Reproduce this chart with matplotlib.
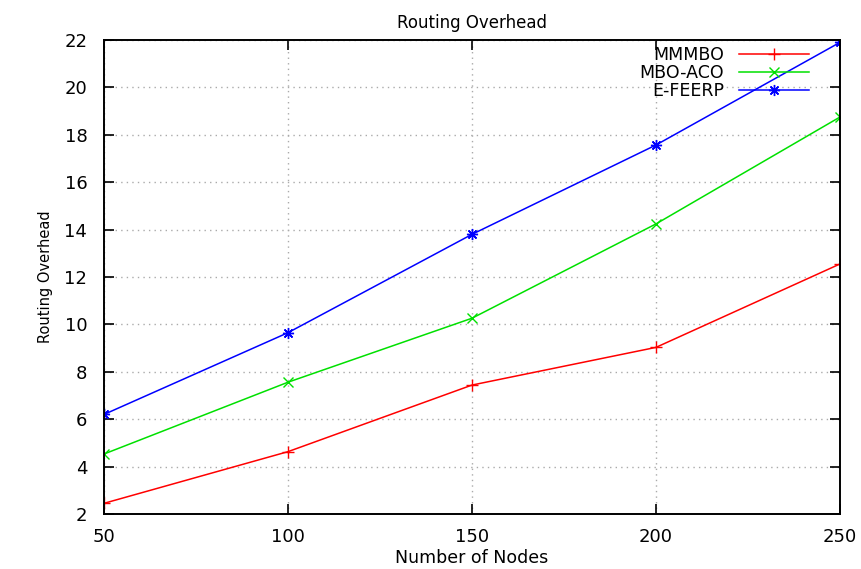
import matplotlib
matplotlib.use("Agg")
from matplotlib import pyplot as plt

# data
nodes = [50, 100, 150, 200, 250]
mmmbo = [2.45, 4.63, 7.44, 9.03, 12.55]
mbo_aco = [4.53, 7.56, 10.26, 14.24, 18.75]
e_feerp = [6.2, 9.65, 13.8, 17.57, 21.9]
yticks = list(range(2, 23, 2))

plt.rcParams['font.family'] = ['DejaVu Sans']

fig = plt.figure(figsize=(8.61, 5.69), dpi=100)
ax = fig.add_axes([0.1208, 0.0967, 0.8548, 0.833])

ax.plot(nodes, mmmbo, color='#ff0000', lw=1.1, marker='+', ms=8, mew=1.0, label='MMMBO')
ax.plot(nodes, mbo_aco, color='#00e000', lw=1.1, marker='x', ms=6.5, mew=1.0, label='MBO-ACO')
ax.plot(nodes, e_feerp, color='#0000ff', lw=1.1, marker=(8, 2, 0), ms=8, mew=1.0, label='E-FEERP')

ax.set_xlim(50, 250)
ax.set_ylim(2, 22)
ax.set_xticks(nodes)
ax.set_yticks(yticks)
ax.grid(True, color='#aaaaaa', linestyle=(0, (1, 3)), linewidth=1.0)
ax.tick_params(direction='in', top=True, right=True, length=7, width=1.2, labelsize=13)
ax.tick_params(axis='x', pad=10)
ax.tick_params(axis='y', pad=12)
for s in ax.spines.values():
    s.set_linewidth(1.4)

ax.set_title('Routing Overhead', fontsize=12, pad=9)
ax.set_xlabel('Number of Nodes', fontsize=12.5, labelpad=2)
ax.set_ylabel('Routing Overhead', fontsize=10.5, labelpad=8)

ax.legend(loc='upper right', frameon=False, markerfirst=False, fontsize=12.5,
          handlelength=4.0, borderaxespad=0.1, borderpad=0.25, labelspacing=0.0,
          handletextpad=0.9, bbox_to_anchor=(0.966, 1.0))

fig.savefig('out.png', dpi=100)
